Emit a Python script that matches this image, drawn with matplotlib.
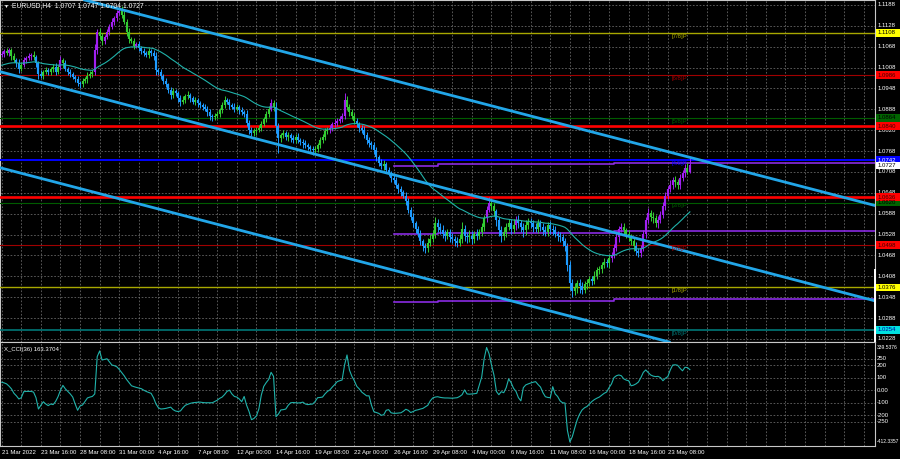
import numpy as np
import pandas as pd
import matplotlib
matplotlib.use("Agg")
import matplotlib.pyplot as plt
from matplotlib.patches import Rectangle
from matplotlib.transforms import blended_transform_factory as btf

plt.rcParams['font.family'] = ['Liberation Sans', 'DejaVu Sans']

# ---------------- data ----------------
header_text = "EURUSD,H4  1.0707 1.0747 1.0704 1.0727"
cci_title = "X_CCI(36) 163.3704"

first_open_pips = 11045
closes_pips = [
    11048, 11055, 11050, 11058, 11040, 11030, 11020, 11005, 11015, 11030,
    11035, 11040, 11045, 11038, 11020, 10990, 10985, 10995, 11000, 10995,
    11005, 11010, 10995, 11010, 11030, 11020, 11005, 10995, 10990, 10980,
    10975, 10965, 10960, 10970, 10975, 10985, 10990, 10995, 11060, 11110,
    11100, 11085, 11095, 11110, 11125, 11140, 11150, 11165, 11170, 11160,
    11140, 11110, 11090, 11085, 11070, 11075, 11065, 11055, 11050, 11045,
    11055, 11050, 11040, 11000, 10995, 10985, 10970, 10960, 10945, 10930,
    10940, 10935, 10920, 10910, 10915, 10925, 10930, 10920, 10910, 10915,
    10905, 10900, 10895, 10890, 10880, 10870, 10865, 10870, 10875, 10885,
    10900, 10915, 10910, 10900, 10895, 10890, 10895, 10885, 10880, 10875,
    10850, 10830, 10820, 10825, 10830, 10835, 10845, 10860, 10875, 10890,
    10905, 10895, 10840, 10805, 10815, 10820, 10810, 10815, 10805, 10800,
    10810, 10800, 10795, 10790, 10785, 10780, 10775, 10770, 10775, 10785,
    10800, 10810, 10825, 10830, 10835, 10845, 10850, 10855, 10860, 10870,
    10915, 10895, 10880, 10870, 10855, 10845, 10835, 10830, 10815, 10800,
    10790, 10785, 10770, 10750, 10735, 10725, 10730, 10715, 10705, 10690,
    10685, 10670, 10660, 10650, 10640, 10625, 10600, 10580, 10560, 10545,
    10530, 10510, 10495, 10490, 10505, 10515, 10530, 10560, 10550, 10540,
    10530, 10525, 10535, 10520, 10515, 10510, 10505, 10515, 10545, 10525,
    10520, 10525, 10515, 10530, 10525, 10535, 10550, 10575, 10600, 10620,
    10610, 10595, 10570, 10540, 10525, 10535, 10550, 10560, 10545, 10555,
    10570, 10560, 10550, 10540, 10555, 10565, 10560, 10550, 10545, 10560,
    10550, 10540, 10535, 10555, 10545, 10540, 10530, 10525, 10520, 10510,
    10495, 10440, 10390, 10365, 10375, 10390, 10380, 10370, 10385, 10390,
    10400, 10395, 10410, 10425, 10430, 10440, 10450, 10445, 10460, 10470,
    10490, 10520, 10545, 10550, 10540, 10530, 10520, 10510, 10495, 10480,
    10475, 10490, 10530, 10570, 10590, 10580, 10575, 10560, 10570, 10585,
    10610, 10640, 10660, 10670, 10685, 10680, 10670, 10690, 10705, 10720,
    10707, 10727]

upper_wick_pips = [
    8, 6, 10, 5, 7, 9, 6, 12, 5, 8,  6, 9, 5, 10, 7, 8, 12, 6, 9, 7,
    5, 8, 10, 6, 12, 7, 9, 5, 8, 6,  7, 10, 5, 8, 6, 9, 7, 6, 15, 10,
    12, 8, 6, 9, 7, 10, 6, 8, 9, 15,  10, 8, 12, 6, 9, 7, 10, 6, 8, 7,
    9, 6, 10, 12, 7, 8, 6, 9, 5, 8,  10, 7, 6, 9, 12, 8, 10, 6, 7, 9,
    6, 8, 5, 9, 7, 10, 6, 8, 9, 7,  8, 12, 6, 9, 7, 10, 8, 6, 9, 7,
    10, 8, 6, 9, 7, 8, 10, 6, 9, 8,  12, 10, 15, 8, 6, 9, 7, 8, 6, 10,
    7, 9, 6, 8, 10, 7, 6, 9, 8, 7,  9, 6, 10, 7, 8, 6, 9, 7, 10, 8,
    20, 12, 8, 10, 7, 9, 6, 8, 10, 7,  9, 6, 8, 10, 7, 9, 12, 6, 8, 7,
    10, 8, 6, 9, 7, 10, 8, 6, 9, 7,  8, 10, 6, 9, 12, 15, 10, 18, 12, 10,
    15, 12, 10, 8, 12, 9, 10, 14, 20, 12,  10, 15, 12, 9, 14, 10, 12, 8, 10, 17,
    12, 10, 8, 9, 12, 15, 10, 14, 12, 18,  12, 15, 10, 12, 14, 10, 12, 9, 11, 13,
    10, 12, 14, 9, 11, 10, 12, 8, 10, 9,  8, 10, 12, 9, 15, 8, 10, 12, 9, 10,
    8, 10, 12, 9, 8, 10, 12, 9, 10, 8,  10, 12, 9, 11, 10, 8, 12, 10, 9, 11,
    10, 9, 12, 10, 14, 10, 12, 9, 11, 10,  12, 10, 9, 14, 10, 12, 9, 11, 10, 12,
    13, 20]

lower_wick_pips = [
    6, 9, 5, 8, 10, 6, 9, 12, 7, 5,  8, 6, 9, 7, 10, 14, 8, 10, 6, 9,
    7, 10, 8, 6, 9, 12, 7, 8, 10, 6,  9, 10, 12, 8, 6, 10, 7, 9, 8, 12,
    10, 12, 8, 6, 9, 7, 10, 8, 6, 9,  8, 12, 10, 7, 9, 6, 10, 8, 9, 7,
    8, 10, 9, 12, 8, 10, 9, 7, 10, 12,  9, 8, 10, 12, 7, 9, 8, 10, 6, 9,
    10, 8, 9, 7, 10, 12, 9, 8, 6, 10,  7, 9, 8, 10, 6, 9, 8, 10, 7, 9,
    10, 12, 9, 8, 10, 7, 9, 6, 8, 10,  8, 12, 20, 42, 10, 8, 9, 12, 10, 8,
    9, 10, 8, 12, 9, 10, 8, 12, 10, 9,  8, 10, 9, 7, 10, 8, 9, 10, 7, 9,
    10, 8, 12, 9, 10, 8, 12, 10, 9, 11,  10, 12, 9, 11, 10, 8, 12, 10, 9, 11,
    10, 9, 12, 10, 8, 12, 10, 11, 9, 12,  10, 12, 15, 15, 12, 10, 9, 12, 14, 10,
    12, 15, 10, 14, 12, 16, 12, 10, 12, 14,  15, 12, 14, 10, 12, 9, 10, 12, 10, 8,
    12, 14, 16, 15, 17, 12, 14, 10, 15, 12,  14, 12, 15, 18, 12, 10, 12, 14, 10, 12,
    12, 14, 10, 12, 15, 12, 10, 14, 12, 16,  15, 18, 20, 17, 12, 14, 20, 12, 10, 12,
    10, 12, 9, 11, 10, 12, 9, 10, 12, 10,  9, 10, 12, 10, 14, 12, 10, 12, 14, 12,
    12, 10, 9, 12, 10, 12, 14, 10, 12, 9,  10, 12, 9, 10, 12, 14, 10, 12, 9, 10,
    6, 3]

# closes of the bars before the visible window (used only to start the MA)
prior_closes_pips = [10960, 10975, 10990, 11000, 11010, 11030, 11040, 11060, 11080,
                     11100, 11110, 11095, 11075, 11060, 11045, 11035, 11045, 11050]

cci_values = [
    63, 58, 50, 32, 10, -25, -45, -70, -60, -12,
    -10, -10, -10, -15, -60, -150, -120, -92, -110, -123,
    -110, -115, -90, -52, 0, 38, 10, -10, -30, -55,
    -110, -160, -125, -118, -90, -62, -55, -50, -30, 267,
    312, 240, 245, 250, 225, 200, 195, 186, 165, 140,
    115, 85, 60, 35, 28, 22, 17, 12, 0, -10,
    -18, -25, -60, -110, -140, -150, -148, -145, -140, -135,
    -155, -166, -170, -165, -140, -120, -112, -105, -100, -98,
    -96, -95, -98, -100, -100, -100, -100, -90, -80, -65,
    -55, -35, -10, 0, -30, -50, -55, -70, -92, -50,
    -120, -170, -235, -225, -205, -150, -40, 30, 60, 85,
    142, 110, -211, -190, -157, -155, -150, -120, -100, -98,
    -100, -102, -100, -95, -110, -115, -112, -110, -90, -60,
    -58, -55, -30, -10, 2, 25, 45, 68, 75, 81,
    200, 280, 160, 110, 75, 30, 10, -15, -30, -45,
    -45, -120, -172, -178, -185, -200, -195, -160, -155, -180,
    -184, -184, -182, -180, -168, -152, -160, -178, -170, -160,
    -156, -150, -145, -132, -120, -85, -62, -55, -52, -57,
    -60, -62, -62, -63, -64, -62, -60, -50, -36, 2,
    -30, -32, -30, -28, -25, 40, 105, 250, 339.5376, 290,
    200, 120, -10, -36, -12, -20, 20, 90, 60, 15,
    -10, -60, -85, 20, 42, 50, 57, 63, 68, 45,
    25, -20, -52, -58, -60, 28, -30, -50, -85, -100,
    -102, -320, -412.3357, -370, -300, -235, -190, -157, -140, -130,
    -110, -90, -75, -64, -55, -40, -25, -15, 20, 50,
    100, 115, 121, 115, 90, 80, 75, 35, 40, 50,
    65, 100, 142, 161, 140, 121, 112, 108, 110, 100,
    75, 95, 108, 161, 200, 202, 198, 174, 154, 182,
    180, 163.3704]

time_labels = ["21 Mar 2022", "23 Mar 16:00", "28 Mar 08:00", "31 Mar 00:00",
               "4 Apr 16:00", "7 Apr 08:00", "12 Apr 00:00", "14 Apr 16:00",
               "19 Apr 08:00", "22 Apr 00:00", "26 Apr 16:00", "29 Apr 08:00",
               "4 May 00:00", "6 May 16:00", "11 May 08:00", "16 May 00:00",
               "18 May 16:00", "23 May 08:00"]
bars_per_label = 16
bars_per_grid = 8

price_ticks = [1.1188, 1.1128, 1.1068, 1.1008, 1.0948, 1.0888, 1.0828, 1.0768,
               1.0708, 1.0648, 1.0588, 1.0528, 1.0468, 1.0408, 1.0348, 1.0288, 1.0228]
price_tick_text = ["1.1188", "1.1128", "1.1068", "1.1008", "1.0948", "1.0888", "1.0828",
                   "1.0768", "1.0708", "1.0648", "1.0588", "1.0528", "1.0468", "1.0408",
                   "1.0348", "1.0288", "1.0228"]

murray_levels = [1.1108, 1.0986, 1.0864, 1.0742, 1.0620, 1.0498, 1.0376, 1.0254]
murray_names = ["[7/8]P", "[6/8]P", "[5/8]P", "[4/8]P", "[3/8]P", "[2/8]P", "[1/8]P", "[0/8]P"]
murray_text = ["1.1108", "1.0986", "1.0864", "1.0742", "1.0620", "1.0498", "1.0376", "1.0254"]

red_levels = [1.0840, 1.0636]
red_text = ["1.0840", "1.0636"]
last_price = 1.0727

# regression channel lines: two anchor points (bar index, price)
channel_lines = [((38.1, 1.11946), (285.1, 1.07425)),
                 ((-0.694, 1.09963), (285.1, 1.04694)),
                 ((-0.694, 1.07203), (272.1, 1.02202))]

# purple step lines: break bars and levels
purple_breaks = [160, 178, 250]
purple_top = [1.0726, 1.0730, 1.0734]
purple_mid = [1.0529, 1.0532, 1.0539]
purple_low = [1.0333, 1.0336, 1.0342]

cci_ticks = [339.5376, 250, 200, 100, 0, -100, -200, -250, -412.3357]
cci_tick_text = ["339.5376", "250", "200", "100", "0.00", "-100", "-200", "-250", "-412.3357"]
cci_grid = [250, 200, 100, 0, -100, -200, -250]

# ---------------- derived ----------------
closes = np.array(closes_pips) / 10000.0
opens = np.concatenate([[first_open_pips / 10000.0], closes[:-1]])
highs = np.maximum(opens, closes) + np.array(upper_wick_pips) / 10000.0
lows = np.minimum(opens, closes) - np.array(lower_wick_pips) / 10000.0
n = len(closes)
x = np.arange(n)

allc = pd.Series(np.concatenate([np.array(prior_closes_pips) / 10000.0, closes]))
ma = allc.ewm(alpha=1 / 20, adjust=False).mean().values[len(prior_closes_pips):]

# ---------------- layout ----------------
W, H = 900, 459
BAR_PX, X0_PX = 2.449, 1.7
PX_PER_PRICE = 3479.0
FS = 4.3


def rect(x0, y0, x1, y1):
    return [x0 / W, 1 - y1 / H, (x1 - x0) / W, (y1 - y0) / H]


fig = plt.figure(figsize=(W / 100, H / 100), dpi=100, facecolor='black')
ax = fig.add_axes(rect(0, 0, 875, 342))
axc = fig.add_axes(rect(0, 342, 875, 446), sharex=ax)

xmin = (0 - X0_PX) / BAR_PX
xmax = (875 - X0_PX) / BAR_PX
ax.set_xlim(xmin, xmax)
ax.set_ylim(1.1188 - 337 / PX_PER_PRICE, 1.1188 + 5 / PX_PER_PRICE)
axc.set_ylim(-444.2, 383.3)

for a in (ax, axc):
    a.set_facecolor('black')
    a.set_xticks([])
    a.set_yticks([])
    for s in a.spines.values():
        s.set_color('#c8c8c8')
        s.set_linewidth(0.8)

grid_col = '#6e6e6e'
grid_ls = (0, (2.2, 2.2))
for p in price_ticks:
    ax.axhline(p, color=grid_col, lw=0.55, ls=grid_ls, zorder=1)
for v in cci_grid:
    axc.axhline(v, color=grid_col, lw=0.55, ls=grid_ls, zorder=1)
for gx in range(0, int(xmax) + 1, bars_per_grid):
    ax.axvline(gx, color=grid_col, lw=0.55, ls=grid_ls, zorder=1)
    axc.axvline(gx, color=grid_col, lw=0.55, ls=grid_ls, zorder=1)

# horizontal levels
murray_cols = ['#a8a800', '#a00000', '#005c00', '#0000ff', '#005c00', '#a00000', '#a8a800', '#007878']
murray_lw = [1.0, 0.8, 0.8, 1.4, 0.8, 0.8, 1.0, 1.2]
for lvl, c, lw in zip(murray_levels, murray_cols, murray_lw):
    ax.axhline(lvl, color=c, lw=lw, zorder=3)
for lvl in red_levels:
    ax.axhline(lvl, color='#ff0000', lw=1.9, zorder=3)

# purple step lines
purple_col = '#8a2be2'
edges = purple_breaks + [xmax]
for levels in (purple_top, purple_mid, purple_low):
    xs, ys = [], []
    for k, lv in enumerate(levels):
        xs += [edges[k], edges[k + 1]]
        ys += [lv, lv]
    ax.plot(xs, ys, color=purple_col, lw=1.2, zorder=3)

# candles
BULL, BEAR, GREEN = '#a020f0', '#1e9bff', '#33cc33'
cols = []
for o, c, m in zip(opens, closes, ma):
    if c >= o:
        cols.append(BULL if c >= m else GREEN)
    else:
        cols.append(BEAR if c < m else GREEN)
min_body = 1.0 / PX_PER_PRICE
body_lo = np.minimum(opens, closes)
body_hi = np.maximum(np.maximum(opens, closes), body_lo + min_body)
ax.vlines(x, lows, highs, colors=cols, lw=0.7, zorder=4)
ax.vlines(x, body_lo, body_hi, colors=cols, lw=1.55, zorder=4)

# moving average
ax.plot(x, ma, color='#20b2aa', lw=0.8, zorder=5)

# channel lines
for p1, p2 in channel_lines:
    ax.axline(p1, p2, color='#22a6e8', lw=2.0, zorder=6)

# murray labels
lab_x = (672 - X0_PX) / BAR_PX
for lvl, name, c in zip(murray_levels, murray_names, murray_cols):
    ax.text(lab_x, lvl - 0.8 / PX_PER_PRICE, name, color=c, fontsize=FS,
            ha='left', va='top', zorder=7)

# right price scale
ty = ax.get_yaxis_transform()
for p, t in zip(price_ticks, price_tick_text):
    ax.text(1.0025, p, t, transform=ty, color='white', fontsize=FS,
            ha='left', va='center', clip_on=False)


def price_box(a, value, text, fc, tc):
    tr = a.get_yaxis_transform()
    h = 3.8 / PX_PER_PRICE
    a.add_patch(Rectangle((875.5 / 875, value - h), 24 / 875, 2 * h, transform=tr,
                          facecolor=fc, edgecolor='none', clip_on=False, zorder=8))
    a.text(1.0025, value, text, transform=tr, color=tc, fontsize=FS,
           ha='left', va='center', clip_on=False, zorder=9)


box_fc = ['#ffff00', '#ff0000', '#006400', '#0000ff', '#006400', '#ff0000', '#ffff00', '#00e0e0']
box_tc = ['black', '#400000', 'black', 'white', 'black', '#400000', 'black', '#0000a0']
for lvl, t, fc, tc in zip(murray_levels, murray_text, box_fc, box_tc):
    price_box(ax, lvl, t, fc, tc)
for lvl, t in zip(red_levels, red_text):
    price_box(ax, lvl, t, '#ff0000', '#400000')
price_box(ax, last_price, "1.0727", 'white', 'black')

# thick marker on the right border of the main window
ax.plot([1.0, 1.0], [1.1188 - 265 / PX_PER_PRICE, 1.1188 - 337 / PX_PER_PRICE],
        transform=ty, color='white', lw=1.4, clip_on=False, zorder=9)

# CCI
axc.plot(x, cci_values, color='#20b2aa', lw=0.8, zorder=4)
tyc = axc.get_yaxis_transform()
for v, t in zip(cci_ticks, cci_tick_text):
    fs = FS if len(t) < 8 else 3.6
    axc.text(1.0015, v, t, transform=tyc, color='white', fontsize=fs,
             ha='left', va='center', clip_on=False)

# time axis labels
tb = btf(axc.transData, axc.transAxes)
for k, t in enumerate(time_labels):
    axc.text(k * bars_per_label, -0.035, t, transform=tb, color='white', fontsize=FS,
             ha='left', va='top', clip_on=False)

# headers
fig.text(4 / W, 1 - 6 / H, "\u25BC", color='white', fontsize=3.6, ha='left', va='center')
fig.text(12 / W, 1 - 6 / H, header_text, color='white', fontsize=4.9, ha='left', va='center')
fig.text(4 / W, 1 - 349 / H, cci_title, color='white', fontsize=FS, ha='left', va='center')

fig.savefig('out.png', dpi=100, facecolor='black')
